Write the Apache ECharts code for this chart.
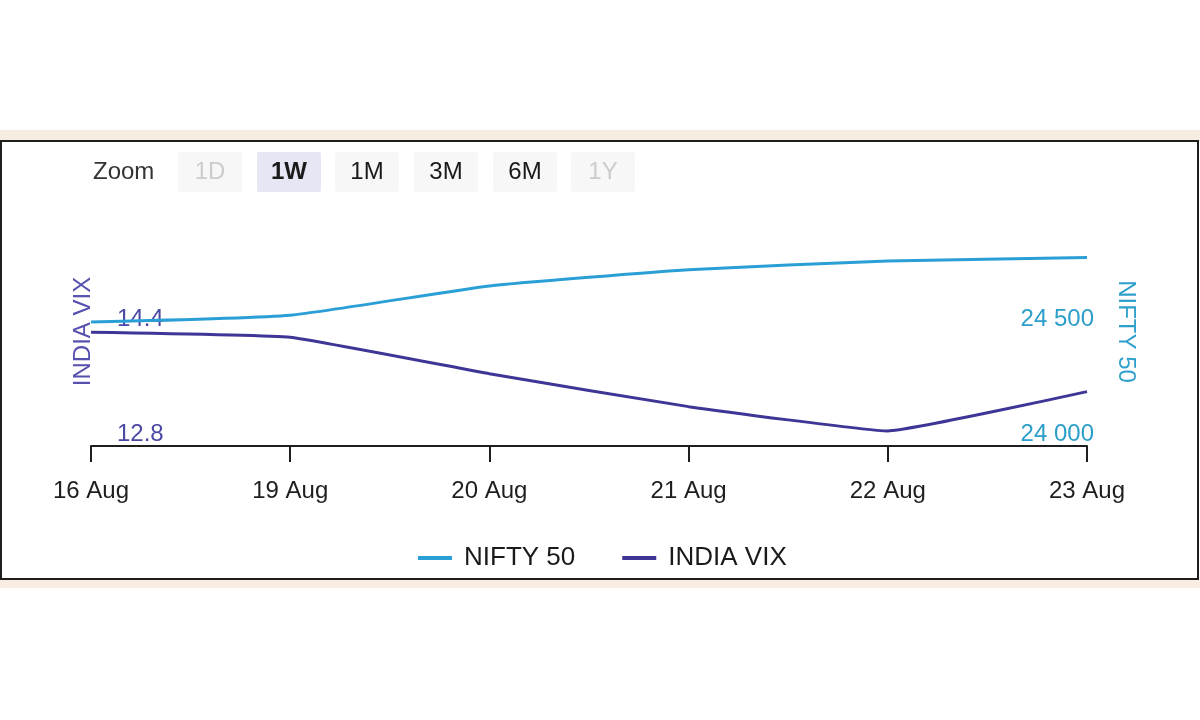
<!DOCTYPE html>
<html><head><meta charset="utf-8">
<script src="https://cdn.jsdelivr.net/npm/echarts@6/dist/echarts.min.js"></script>
<style>html,body{margin:0;padding:0;background:#fff}#c{width:1200px;height:720px}</style>
</head><body><div id="c"></div>
<script>
const categories = ['16 Aug','19 Aug','20 Aug','21 Aug','22 Aug','23 Aug'];
const nifty50 = [24541, 24571, 24699, 24770, 24808, 24823];
const indiaVix = [14.39, 14.32, 13.81, 13.35, 13.01, 13.56];
const zoomButtons = ['1D','1W','1M','3M','6M','1Y'];
const zoomActive = '1W';
const zoomDisabled = ['1D','1Y'];

const FONT = '"Liberation Sans", Arial, sans-serif';
const C_NIFTY = '#2a9fd6';
const C_VIX = '#3d3696';

const chart = echarts.init(document.getElementById('c'), null, {renderer: 'canvas'});

const btnCenters = [210, 289, 367, 446, 525, 603];
const graphics = [
  {type: 'rect', shape: {x: 0, y: 130, width: 1200, height: 11}, style: {fill: '#f6ede2'}, silent: true},
  {type: 'rect', shape: {x: 0, y: 580, width: 1200, height: 8}, style: {fill: '#fbece2'}, silent: true},
  {type: 'rect', shape: {x: 1, y: 141, width: 1197, height: 438}, style: {fill: 'none', stroke: '#1e1e1e', lineWidth: 2}, silent: true},
  {type: 'text', x: 93, y: 172, style: {text: 'Zoom', font: '24px ' + FONT, fill: '#333', verticalAlign: 'middle'}, silent: true}
];
zoomButtons.forEach((b, i) => {
  const active = b === zoomActive;
  const disabled = zoomDisabled.includes(b);
  graphics.push({type: 'rect', shape: {x: btnCenters[i] - 32, y: 152, width: 64, height: 40, r: 2},
    style: {fill: active ? '#e6e6f4' : '#f7f7f7'}, silent: true});
  graphics.push({type: 'text', x: btnCenters[i], y: 172,
    style: {text: b, font: (active ? 'bold ' : '') + '24px ' + FONT, fill: disabled ? '#cccccc' : '#1a1a1a',
      align: 'center', verticalAlign: 'middle'}, silent: true});
});

chart.setOption({
  animation: false,
  backgroundColor: '#ffffff',
  textStyle: {fontFamily: FONT},
  graphic: graphics,
  grid: {left: 91, right: 113, top: 217, bottom: 274, containLabel: false},
  legend: {
    left: 418, top: 545, padding: 0,
    itemWidth: 34, itemHeight: 4, itemGap: 47,
    icon: 'rect',
    textStyle: {fontSize: 26, color: '#1a1a1a', fontFamily: FONT, padding: [0, 0, 0, 7]},
    data: ['NIFTY 50', 'INDIA VIX']
  },
  xAxis: {
    type: 'category', data: categories, boundaryGap: false,
    axisLine: {lineStyle: {color: '#1e1e1e', width: 2}},
    axisTick: {length: 16, lineStyle: {color: '#1e1e1e', width: 2}},
    axisLabel: {fontSize: 24, color: '#1e1e1e', margin: 33, fontFamily: FONT},
    splitLine: {show: false}
  },
  yAxis: [
    {
      type: 'value', min: 12.8, max: 16.0, interval: 1.6, position: 'left',
      name: 'INDIA VIX', nameLocation: 'middle', nameRotate: 90, nameGap: -4,
      nameMoveOverlap: false,
      nameTextStyle: {fontSize: 24, color: '#5651ae', fontFamily: FONT},
      axisLine: {show: false}, axisTick: {show: false}, splitLine: {show: false},
      axisLabel: {inside: true, margin: 26, showMaxLabel: false, fontSize: 24, color: '#4b47a4',
        verticalAlign: 'bottom', lineHeight: 24, fontFamily: FONT,
        formatter: v => v.toFixed(1)}
    },
    {
      type: 'value', min: 24000, max: 25000, interval: 500, position: 'right', offset: 7,
      name: 'NIFTY 50', nameLocation: 'middle', nameRotate: -90, nameGap: 20,
      nameMoveOverlap: false,
      nameTextStyle: {fontSize: 24, color: '#2fa0cc', fontFamily: FONT},
      axisLine: {show: false}, axisTick: {show: false}, splitLine: {show: false},
      axisLabel: {inside: true, margin: 0, showMaxLabel: false, fontSize: 24, color: '#2b9ec9',
        verticalAlign: 'bottom', lineHeight: 24, fontFamily: FONT,
        formatter: v => String(v).replace(/(\d{2})(\d{3})$/, '$1 $2')}
    }
  ],
  series: [
    {name: 'NIFTY 50', type: 'line', yAxisIndex: 1, data: nifty50, showSymbol: false, smooth: 0.15,
      lineStyle: {color: C_NIFTY, width: 3}, itemStyle: {color: C_NIFTY}, z: 3},
    {name: 'INDIA VIX', type: 'line', yAxisIndex: 0, data: indiaVix, showSymbol: false, smooth: 0.1,
      lineStyle: {color: C_VIX, width: 3}, itemStyle: {color: C_VIX}, z: 3}
  ]
});
</script></body></html>
